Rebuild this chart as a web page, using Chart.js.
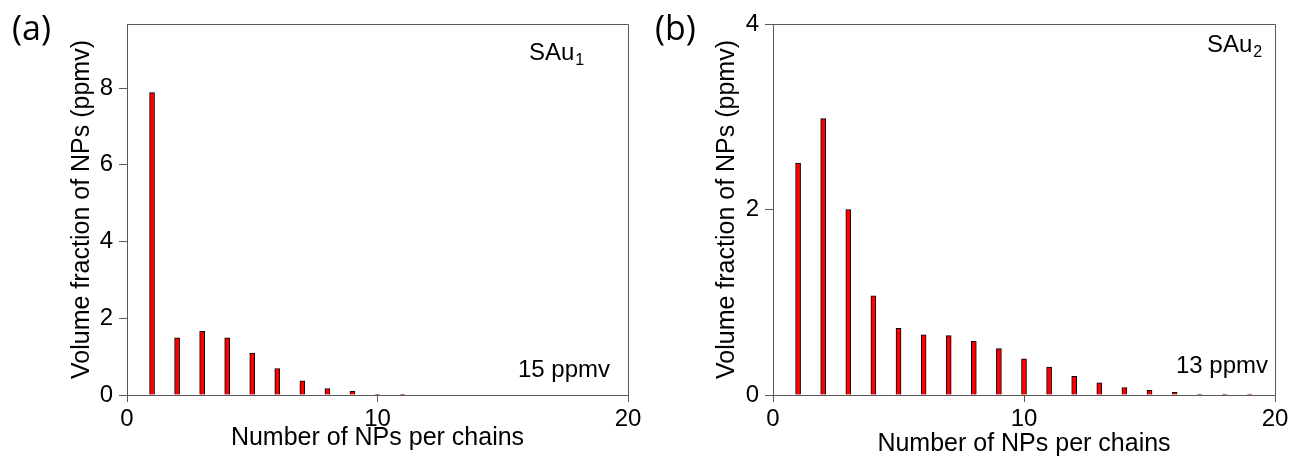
<!DOCTYPE html>
<html>
<head>
<meta charset="utf-8">
<script src="https://cdn.jsdelivr.net/npm/chart.js@4/dist/chart.umd.min.js"></script>
<style>
  html, body { margin:0; padding:0; background:#fff; }
  #wrap { position:relative; width:1289px; height:463px; overflow:hidden; }
  canvas { position:absolute; top:0; }
  #chartA { left:0; }
  #chartB { left:640px; }
</style>
</head>
<body>
<div id="wrap">
  <canvas id="chartA" width="650" height="463"></canvas>
  <canvas id="chartB" width="664" height="463"></canvas>
</div>
<script>
// NPs per chain (x) and volume fraction in ppmv (y)
const chainsA = [1, 2, 3, 4, 5, 6, 7, 8, 9, 10, 11];
const fractionA = [7.88, 1.49, 1.66, 1.49, 1.09, 0.69, 0.37, 0.17, 0.10, 0.02, 0.02];
const chainsB = [1, 2, 3, 4, 5, 6, 7, 8, 9, 10, 11, 12, 13, 14, 15, 16, 17, 18, 19];
const fractionB = [2.50, 2.98, 2.00, 1.07, 0.72, 0.65, 0.64, 0.58, 0.50, 0.39, 0.30, 0.20, 0.13, 0.08, 0.05, 0.03, 0.01, 0.01, 0.01];
const xTicks = [0, 10, 20];
const yTicksA = [0, 2, 4, 6, 8];
const yTicksB = [0, 2, 4];

const AXIS = '#595959';
const SANS = "'Liberation Sans', Arial, sans-serif";

// box around the plot + panel texts
const framePlugin = {
  id: 'frame',
  afterDraw(chart, args, opts){
    const { ctx, chartArea: a } = chart;
    ctx.save();
    ctx.strokeStyle = AXIS;
    ctx.lineWidth = 1;
    ctx.beginPath();
    ctx.moveTo(a.left, a.top + 0.5);
    ctx.lineTo(a.right + 0.5, a.top + 0.5);
    ctx.lineTo(a.right + 0.5, a.bottom);
    ctx.stroke();

    ctx.fillStyle = '#000';
    ctx.textBaseline = 'alphabetic';
    // panel tag
    ctx.font = "34px 'Open Sans', 'Noto Sans', sans-serif";
    ctx.textAlign = 'left';
    ctx.fillText(opts.tag, opts.tagX, 40);
    // sample name with subscript
    ctx.font = '24px ' + SANS;
    ctx.fillText(opts.name, opts.nameX, opts.nameY);
    const w = ctx.measureText(opts.name).width;
    ctx.font = '16px ' + SANS;
    ctx.fillText(opts.sub, opts.nameX + w + 1, opts.nameY + 5);
    // total concentration
    ctx.font = '24px ' + SANS;
    ctx.textAlign = 'right';
    ctx.fillText(opts.total, opts.totalX, opts.totalY);
    ctx.restore();
  }
};

function makeChart(id, chains, values, yMax, yTicks, cfg){
  return new Chart(document.getElementById(id), {
    type: 'bar',
    data: {
      labels: chains,
      datasets: [{ data: values, backgroundColor: '#ff0000', borderColor: '#000', borderWidth: 1, barThickness: 5 }]
    },
    options: {
      responsive: false, animation: false, devicePixelRatio: 1,
      layout: { padding: { top: 24, right: cfg.padRight, bottom: 0, left: 0 } },
      plugins: { legend: { display: false }, tooltip: { enabled: false }, frame: cfg.frame },
      scales: {
        x: {
          type: 'linear', min: 0, max: 20, offset: false,
          afterBuildTicks: s => { s.ticks = xTicks.map(v => ({ value: v })); },
          afterFit: s => { s.height = 68; },
          grid: { display: true, drawOnChartArea: false, drawTicks: true, tickLength: 7, color: AXIS, offset: false },
          border: { display: true, color: AXIS, width: 1 },
          ticks: { color: '#000', padding: 3, font: { family: SANS, size: 24 }, maxRotation: 0 },
          title: { display: true, text: 'Number of NPs per chains', color: '#000', font: { family: SANS, size: 25 }, padding: { top: 0, bottom: cfg.xTitlePad } }
        },
        y: {
          min: 0, max: yMax,
          afterBuildTicks: s => { s.ticks = yTicks.map(v => ({ value: v })); },
          afterFit: s => { s.width = cfg.yWidth; },
          grid: { display: true, drawOnChartArea: false, drawTicks: true, tickLength: 8, color: AXIS },
          border: { display: true, color: AXIS, width: 1 },
          ticks: { color: '#000', padding: 6, font: { family: SANS, size: 24 } },
          title: { display: true, text: 'Volume fraction of NPs (ppmv)', color: '#000', font: { family: SANS, size: 25 }, padding: { top: cfg.yTitlePad, bottom: 0 } }
        }
      }
    },
    plugins: [framePlugin]
  });
}

makeChart('chartA', chainsA, fractionA, 9.67, yTicksA, {
  padRight: 22, yWidth: 127, xTitlePad: 10, yTitlePad: 67,
  frame: { tag: '(a)', tagX: 12, name: 'SAu', sub: '1', nameX: 529, nameY: 60, total: '15 ppmv', totalX: 610, totalY: 377 }
});

makeChart('chartB', chainsB, fractionB, 4, yTicksB, {
  padRight: 29, yWidth: 133, xTitlePad: 4, yTitlePad: 72,
  frame: { tag: '(b)', tagX: 15, name: 'SAu', sub: '2', nameX: 567, nameY: 52, total: '13 ppmv', totalX: 628, totalY: 373 }
});
</script>
</body>
</html>
